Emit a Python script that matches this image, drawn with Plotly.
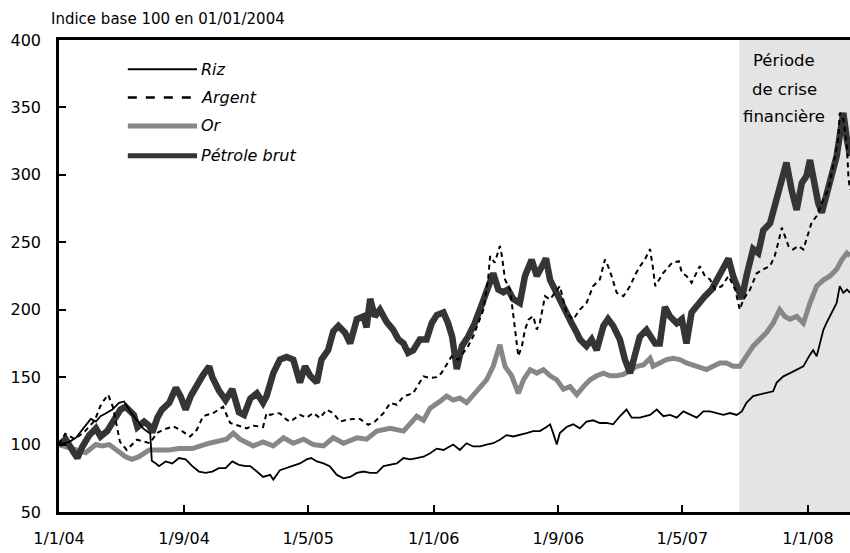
import plotly.graph_objects as go

# ---------------- data ----------------
oil_dates = ["2004-01-01","2004-01-14","2004-01-30","2004-02-06","2004-02-15","2004-02-29","2004-03-13","2004-03-22",
 "2004-04-04","2004-04-17","2004-04-30","2004-05-10","2004-05-26","2004-06-02","2004-06-15","2004-06-25","2004-07-01",
 "2004-07-11","2004-07-20","2004-08-03","2004-08-16","2004-08-25","2004-09-04","2004-09-14","2004-09-24","2004-10-07",
 "2004-10-20","2004-10-26","2004-11-08","2004-11-21","2004-12-04","2004-12-17","2004-12-27","2005-01-08","2005-01-21",
 "2005-02-02","2005-02-09","2005-02-22","2005-03-07","2005-03-20","2005-04-02","2005-04-15","2005-04-25","2005-05-05",
 "2005-05-18","2005-05-27","2005-06-09","2005-06-19","2005-06-29","2005-07-12","2005-07-22","2005-08-04","2005-08-17",
 "2005-08-23","2005-08-30","2005-09-08","2005-09-18","2005-10-01","2005-10-14","2005-10-24","2005-11-03","2005-11-12",
 "2005-11-22","2005-12-05","2005-12-18","2005-12-28","2006-01-07","2006-01-20","2006-01-29","2006-02-06","2006-02-15",
 "2006-02-25","2006-03-09","2006-03-22","2006-04-04","2006-04-17","2006-04-27","2006-05-07","2006-05-17","2006-05-26",
 "2006-06-05","2006-06-18","2006-06-28","2006-07-11","2006-07-21","2006-07-31","2006-08-08","2006-08-16","2006-08-25",
 "2006-09-04","2006-09-14","2006-09-27","2006-10-07","2006-10-13","2006-10-26","2006-11-05","2006-11-15","2006-11-28",
 "2006-12-07","2006-12-17","2006-12-30","2007-01-09","2007-01-19","2007-01-29","2007-02-07","2007-02-20","2007-03-09",
 "2007-03-18","2007-03-28","2007-04-07","2007-04-20","2007-04-30","2007-05-09","2007-05-19","2007-06-01","2007-06-14",
 "2007-06-27","2007-07-10","2007-07-20","2007-07-30","2007-08-08","2007-08-15","2007-08-25","2007-09-03","2007-09-16",
 "2007-09-26","2007-10-06","2007-10-19","2007-10-28","2007-11-07","2007-11-20","2007-11-30","2007-12-10","2007-12-20",
 "2007-12-29","2008-01-05","2008-01-11","2008-01-21","2008-01-28","2008-02-06","2008-02-16","2008-02-26","2008-03-03",
 "2008-03-10","2008-03-17","2008-03-23"]
oil_values = [100,104,94,90,98,107,112,106,
 110,117,126,128,122,113,117,114,109,
 120,126,131,142,136,126,136,143,151,
 158,150,140,133,141,124,122,134,138,
 131,136,153,163,165,163,146,158,151,
 146,163,170,184,188,183,175,193,195,
 187,208,195,200,191,185,178,175,168,
 170,178,178,190,196,198,190,180,156,
 173,180,190,203,217,227,215,213,215,
 208,205,225,237,225,232,238,222,215,
 208,198,190,183,178,173,178,170,188,
 193,188,178,163,153,168,180,185,175,
 175,202,195,190,193,175,198,205,210,
 215,225,230,238,225,217,208,225,245,
 242,259,264,277,287,309,289,274,294,
 299,311,297,279,272,284,297,314,329,
 346,326,314]

gold_dates = ["2004-01-01","2004-02-03","2004-02-22","2004-03-13","2004-03-25","2004-04-08","2004-04-21","2004-05-10",
 "2004-05-22","2004-06-05","2004-06-25","2004-07-14","2004-08-03","2004-08-22","2004-09-17","2004-10-20","2004-11-23",
 "2004-12-06","2004-12-19","2005-01-14","2005-02-02","2005-02-22","2005-03-14","2005-04-02","2005-04-22","2005-05-11",
 "2005-05-31","2005-06-19","2005-07-09","2005-08-04","2005-08-23","2005-09-12","2005-10-08","2005-11-03","2005-11-16",
 "2005-11-29","2005-12-12","2005-12-25","2006-01-13","2006-01-26","2006-02-08","2006-02-21","2006-03-06","2006-03-19",
 "2006-04-01","2006-04-14","2006-04-27","2006-05-10","2006-05-20","2006-06-02","2006-06-15","2006-06-25","2006-07-08",
 "2006-07-21","2006-08-03","2006-08-16","2006-08-29","2006-09-11","2006-09-24","2006-10-07","2006-10-20","2006-11-02",
 "2006-11-15","2006-11-28","2006-12-11","2006-12-24","2007-01-06","2007-01-19","2007-02-01","2007-02-14","2007-02-27",
 "2007-03-05","2007-03-18","2007-03-31","2007-04-13","2007-04-26","2007-05-09","2007-05-22","2007-06-04","2007-06-17",
 "2007-06-30","2007-07-13","2007-07-26","2007-08-08","2007-08-21","2007-09-03","2007-09-16","2007-09-29","2007-10-12",
 "2007-10-25","2007-11-07","2007-11-17","2007-11-27","2007-12-10","2007-12-23","2008-01-05","2008-01-18","2008-01-31",
 "2008-02-13","2008-02-26","2008-03-07","2008-03-17","2008-03-23"]
gold_values = [100,96,94,100,99,100,96,91,
 89,91,96,96,96,97,97,101,104,
 108.5,104,99,102,99,105,101,104,100,
 99,105,101,105,104,110,112,110,116,
 121,118,127,132,136,133,134.5,131,137,
 143,148,158,174,158,151,138,148,155.5,
 153,155.5,151,148,141,143,137,143,148,
 151,153,151,151,152,155.5,158,159,164,
 158,160.5,163,164,163,160.5,159,158,155.6,
 158,160.5,160.5,158,158,165.5,173,178,183,
 190,200,195,193,195,190,205,217.5,222,
 225,230,237,242,240]

rice_dates = ["2004-01-01","2004-01-21","2004-02-03","2004-02-15","2004-03-03","2004-03-13","2004-03-22","2004-04-01",
 "2004-04-14","2004-04-27","2004-05-07","2004-05-18","2004-06-01","2004-06-13","2004-06-27","2004-06-30","2004-07-08",
 "2004-07-14","2004-07-27","2004-08-09","2004-08-22","2004-09-04","2004-09-17","2004-09-30","2004-10-13","2004-10-26",
 "2004-11-08","2004-11-21","2004-12-04","2004-12-17","2004-12-30","2005-01-08","2005-01-21","2005-02-02","2005-02-16",
 "2005-02-22","2005-03-07","2005-03-20","2005-04-02","2005-04-15","2005-04-28","2005-05-07","2005-05-18","2005-05-31",
 "2005-06-12","2005-06-26","2005-07-09","2005-07-22","2005-08-04","2005-08-17","2005-08-30","2005-09-12","2005-09-25",
 "2005-10-08","2005-10-21","2005-11-03","2005-11-16","2005-11-29","2005-12-12","2005-12-25","2006-01-07","2006-01-20",
 "2006-02-02","2006-02-08","2006-02-21","2006-03-06","2006-03-19","2006-04-01","2006-04-14","2006-04-27","2006-05-10",
 "2006-05-23","2006-06-05","2006-06-18","2006-07-01","2006-07-14","2006-07-27","2006-08-09","2006-08-16","2006-08-22",
 "2006-08-29","2006-09-04","2006-09-17","2006-09-30","2006-10-13","2006-10-26","2006-11-08","2006-11-21","2006-12-04",
 "2006-12-17","2006-12-30","2007-01-12","2007-01-22","2007-02-07","2007-02-27","2007-03-12","2007-03-25","2007-04-07",
 "2007-04-20","2007-05-03","2007-05-16","2007-05-29","2007-06-11","2007-06-24","2007-07-07","2007-07-20","2007-08-02",
 "2007-08-15","2007-08-25","2007-09-03","2007-09-16","2007-09-29","2007-10-12","2007-10-25","2007-11-01","2007-11-14",
 "2007-11-27","2007-12-10","2007-12-23","2008-01-05","2008-01-11","2008-01-18","2008-01-25","2008-01-31","2008-02-06",
 "2008-02-13","2008-02-19","2008-02-26","2008-03-03","2008-03-10","2008-03-17","2008-03-23"]
rice_values = [100,102,105,111,119,117,121,123,
 126,131,132,125,118,112,108,88,86,
 84,87.5,86,90,89,84,80,79,80,
 82.5,82.5,87.5,85,84,84,80,76,77.5,
 74,81,82.5,84,86,89,90,87.5,86,
 84,77.5,75,76,79,80,79,79,84,
 85,86,90,89,90,91,93.5,97,96,
 98.6,100,96,101,98.6,98.6,100,101,103.5,
 107,106,107,108.5,110,110,113,115,108.5,
 100,108.5,113,115,112,117,118,116,116,
 115,121,126,120,120,122,126,121,122,
 120,124.6,122,120,124.6,124.6,123.4,122,123.4,
 122,124.6,131,136,137,138,139.5,146,150.6,
 153,155.6,158,166.7,170,165.5,175,185,190,
 195,200,205,217.5,212.5,215,212.5]

silver_dates = ["2004-01-01","2004-01-13","2004-02-01","2004-02-21","2004-03-11","2004-03-21","2004-03-29","2004-04-06",
 "2004-04-15","2004-04-29","2004-05-12","2004-06-01","2004-06-26","2004-07-10","2004-07-22","2004-08-11","2004-08-24",
 "2004-09-13","2004-09-26","2004-10-08","2004-10-28","2004-11-16","2004-11-30","2004-12-19","2005-01-01","2005-01-14",
 "2005-02-02","2005-02-09","2005-02-16","2005-03-01","2005-03-07","2005-03-20","2005-03-27","2005-04-15","2005-04-28",
 "2005-05-11","2005-05-24","2005-06-06","2005-06-19","2005-07-02","2005-07-15","2005-07-28","2005-08-10","2005-08-26",
 "2005-09-08","2005-09-25","2005-10-08","2005-10-21","2005-11-03","2005-11-22","2005-12-02","2005-12-12","2005-12-25",
 "2006-01-07","2006-01-16","2006-01-26","2006-02-05","2006-02-18","2006-02-28","2006-03-09","2006-03-19","2006-03-29",
 "2006-04-08","2006-04-17","2006-04-21","2006-04-30","2006-05-10","2006-05-14","2006-05-20","2006-05-30","2006-06-06",
 "2006-06-12","2006-06-15","2006-06-22","2006-06-28","2006-07-05","2006-07-14","2006-07-21","2006-07-27","2006-08-06",
 "2006-08-16","2006-08-25","2006-09-04","2006-09-17","2006-09-30","2006-10-13","2006-10-26","2006-11-08","2006-11-21",
 "2006-12-01","2006-12-07","2006-12-14","2006-12-24","2007-01-06","2007-01-19","2007-01-29","2007-02-07","2007-02-17",
 "2007-02-27","2007-03-05","2007-03-09","2007-03-25","2007-04-11","2007-04-24","2007-04-30","2007-05-09","2007-05-19",
 "2007-06-04","2007-06-14","2007-06-24","2007-07-04","2007-07-17","2007-07-30","2007-08-12","2007-08-21","2007-08-28",
 "2007-09-10","2007-09-23","2007-10-06","2007-10-19","2007-10-28","2007-11-04","2007-11-11","2007-11-17","2007-11-24",
 "2007-12-03","2007-12-13","2007-12-23","2008-01-02","2008-01-08","2008-01-18","2008-01-31","2008-02-10","2008-02-19",
 "2008-02-29","2008-03-03","2008-03-10","2008-03-17","2008-03-20","2008-03-23"]
silver_values = [100,108,104,110,118,128,133,137,
 128,102,96,103.6,101,108.5,111,113.5,111,
 106,111,121,123.4,128,116,113.5,112,114,
 113,123.4,122,123.4,123,118.5,117,122,120,
 123.4,119.7,125.8,123.3,117,118.4,119,119,114.7,
 117,123.3,130.8,129.5,135.7,138.2,144.4,150.6,149.4,
 150,153,159.3,165.5,163,167.9,172.9,180.3,190.2,
 200.1,222.4,239.7,234.8,247.2,240,222.4,215,192.7,
 177.8,165.5,172.9,185.3,192.7,195.2,185.3,190.2,210,
 207.6,212.5,217.5,197.7,192.7,200.1,205,217.5,222.4,
 237.3,232.3,224.9,212.5,210,217.5,226,232,237.3,
 245,229.9,217.5,227.4,234.8,236,227.4,225,220,
 232.3,225,222.4,215,217.5,225,215,200,207.6,
 215,227,230,232.3,239.7,249.7,260.8,254.6,247.2,
 244.7,247.2,244.7,257,264.5,269.5,281.8,289.3,306.6,
 326.4,346,341.3,321.5,298,289]

x_tickvals = ["2004-01-01","2004-09-01","2005-05-01","2006-01-01","2006-09-01","2007-05-01","2008-01-01"]
x_ticktext = ["1/1/04","1/9/04","1/5/05","1/1/06","1/9/06","1/5/07","1/1/08"]
y_tickvals = [50,100,150,200,250,300,350,400]

crisis_start = "2007-08-20"
x_end = "2008-03-23"

series_names = ["Riz", "Argent", "Or", "Pétrole brut"]

# ---------------- figure ----------------
FONT = "'DejaVu Sans', sans-serif"
fig = go.Figure()

fig.add_vrect(x0=crisis_start, x1=x_end, fillcolor="#e4e4e4", line_width=0, layer="below")

fig.add_trace(go.Scatter(x=gold_dates, y=gold_values, mode="lines", name=series_names[2],
                         line=dict(color="#878787", width=5), showlegend=False))
fig.add_trace(go.Scatter(x=oil_dates, y=oil_values, mode="lines", name=series_names[3],
                         line=dict(color="#353535", width=6.5), showlegend=False))
fig.add_trace(go.Scatter(x=silver_dates, y=silver_values, mode="lines", name=series_names[1],
                         line=dict(color="#000000", width=2, dash="5px,4px"), showlegend=False))
fig.add_trace(go.Scatter(x=rice_dates, y=rice_values, mode="lines", name=series_names[0],
                         line=dict(color="#000000", width=1.8), showlegend=False))

# custom legend (long line samples, italic labels)
leg_y = [0.938, 0.878, 0.818, 0.755]
leg_styles = [dict(color="#000000", width=2),
              dict(color="#000000", width=2.5, dash="dash"),
              dict(color="#878787", width=5),
              dict(color="#353535", width=5)]
for name, yy, st in zip(series_names, leg_y, leg_styles):
    fig.add_shape(type="line", xref="paper", yref="paper", x0=0.087, x1=0.1745, y0=yy, y1=yy, line=st)
    fig.add_annotation(xref="paper", yref="paper", x=0.1765, y=yy, text=name, showarrow=False,
                       xanchor="left", yanchor="middle",
                       font=dict(family=FONT, size=16, color="#000000", style="italic"))

fig.add_annotation(xref="paper", yref="paper", x=-0.013, y=1.045, text="Indice base 100 en 01/01/2004",
                   showarrow=False, xanchor="left", yanchor="middle",
                   font=dict(family=FONT, size=15, color="#000000"))

for txt, yy in zip(["Période", "de crise", "financière"], [0.957, 0.896, 0.838]):
    fig.add_annotation(xref="paper", yref="paper", x=0.9166, y=yy, text=txt, showarrow=False,
                       xanchor="center", yanchor="middle",
                       font=dict(family=FONT, size=16.5, color="#000000"))

fig.update_layout(
    width=850, height=553,
    margin=dict(l=59, r=0, t=40, b=41),
    paper_bgcolor="white", plot_bgcolor="white",
    showlegend=False,
    font=dict(family=FONT, size=16, color="#000000"),
    xaxis=dict(type="date", range=["2004-01-01", x_end], tickmode="array",
               tickvals=x_tickvals, ticktext=x_ticktext, ticks="inside", ticklen=7,
               tickwidth=2, tickcolor="#000", showline=True, linecolor="#000", linewidth=2.5,
               mirror=True, showgrid=False, zeroline=False, ticklabelstandoff=10,
               tickfont=dict(family=FONT, size=16)),
    yaxis=dict(range=[50, 400], tickmode="array", tickvals=y_tickvals, ticks="inside", ticklen=7,
               tickwidth=2, tickcolor="#000", showline=True, linecolor="#000", linewidth=2.5,
               showgrid=False, zeroline=False, ticklabelstandoff=12,
               tickfont=dict(family=FONT, size=16)),
)

# remove the default page margin so the 850x553 figure fills the window exactly
fig.write_html("out.html", config={"displayModeBar": False},
               post_script="document.body.style.margin='0';document.body.style.overflow='hidden';")
